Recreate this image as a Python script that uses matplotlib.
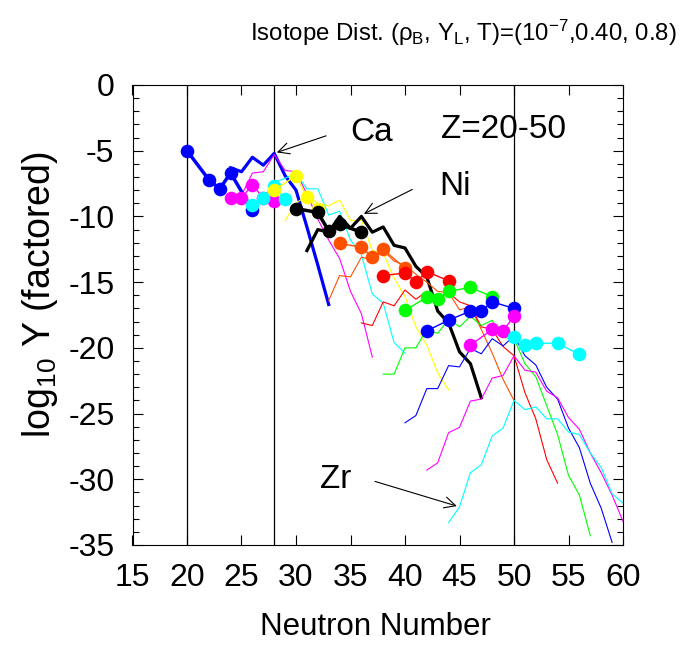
import matplotlib
matplotlib.use('Agg')
import matplotlib.pyplot as plt
from matplotlib.ticker import MultipleLocator

plt.rcParams['font.family'] = ['Liberation Sans', 'DejaVu Sans']
plt.rcParams['axes.unicode_minus'] = False
plt.rcParams['mathtext.fontset'] = 'custom'
plt.rcParams['mathtext.rm'] = 'Liberation Sans'
plt.rcParams['mathtext.it'] = 'Liberation Sans:italic'

# Model curves (lines) and data points (markers), log10 Y factored, per element
ca_model_n = [24, 25, 26, 27, 28, 29, 30, 31, 32, 33]
ca_model_y = [-6.3, -6.6, -5.5, -6.1, -5.2, -6.9, -8.0, -10.8, -13.7, -16.7]
ca_data_n = [20, 22, 23, 24, 26]
ca_data_y = [-5.0, -7.2, -7.9, -6.7, -9.5]

ti_model_n = [25, 26, 27, 28, 29, 30, 31, 32, 33, 34, 35, 36, 37]
ti_model_y = [-8.4, -6.7, -6.6, -5.3, -6.5, -6.6, -8.3, -10.2, -11.8, -13.2, -15.7, -17.4, -20.7]
ti_data_n = [24, 25, 26, 27, 28]
ti_data_y = [-8.6, -8.6, -7.6, -8.6, -8.8]

cr_model_n = [27, 28, 29, 30, 31, 32, 33, 34, 35, 36, 37, 38, 39, 40]
cr_model_y = [-8.6, -7.4, -7.1, -6.7, -7.9, -7.9, -9.9, -9.6, -11.8, -12.9, -15.9, -16.6, -19.6, -20.4]
cr_data_n = [26, 27, 28, 29]
cr_data_y = [-9.1, -8.6, -7.7, -8.7]

fe_model_n = list(range(29, 45))
fe_model_y = [-10.3, -9.0, -8.4, -9.0, -9.2, -8.75, -10.3, -10.3, -12.6, -12.8, -14.7, -16.1,
              -18.4, -19.8, -21.9, -23.2]
fe_data_n = [28, 30, 31, 32]
fe_data_y = [-8.0, -6.9, -8.55, -9.4]

ni_model_n = list(range(31, 48))
ni_model_y = [-12.6, -11.0, -11.2, -10.0, -10.9, -10.0, -11.2, -10.8, -12.2, -12.4, -13.8, -14.6,
              -17.2, -18.1, -20.3, -21.2, -23.8]
ni_data_n = [30, 32, 33, 34, 36]
ni_data_y = [-9.4, -9.7, -11.1, -10.6, -11.2]

zn_model_n = list(range(33, 51))
zn_model_y = [-16.4, -14.5, -14.6, -13.1, -13.3, -12.6, -13.4, -13.7, -14.4, -15.0, -15.7, -15.8,
              -17.1, -16.9, -18.6, -20.4, -22.4, -24.0]
zn_data_n = [34, 36, 37, 38, 40]
zn_data_y = [-12.05, -12.35, -13.1, -12.5, -13.95]

ge_model_n = list(range(36, 55))
ge_model_y = [-18.1, -18.3, -16.5, -16.8, -15.6, -16.3, -15.7, -16.2, -15.8, -16.5, -16.8, -18.4,
              -18.6, -19.9, -20.6, -23.4, -25.4, -28.5, -30.3]
ge_data_n = [38, 40, 41, 42, 44]
ge_data_y = [-14.5, -14.3, -15.0, -14.2, -14.9]

se_model_n = list(range(38, 58))
se_model_y = [-22.0, -22.0, -20.0, -20.0, -18.6, -18.9, -17.8, -18.4, -17.6, -18.3, -17.9, -19.2,
              -19.3, -21.2, -22.2, -24.4, -26.6, -29.7, -31.2, -34.3]
se_data_n = [40, 42, 43, 44, 46, 48]
se_data_y = [-17.15, -16.15, -16.3, -15.7, -15.4, -16.1]

kr_model_n = list(range(40, 60))
kr_model_y = [-25.7, -25.15, -23.1, -23.1, -21.35, -21.45, -20.05, -20.45, -19.3, -19.85, -19.1,
              -20.6, -21.3, -23.0, -23.9, -26.1, -27.6, -30.3, -32.2, -34.8]
kr_data_n = [42, 44, 46, 47, 48, 50]
kr_data_y = [-18.7, -17.9, -17.2, -17.2, -16.5, -17.0]

sr_model_n = list(range(42, 61))
sr_model_y = [-29.3, -28.75, -26.45, -26.05, -24.05, -23.9, -22.3, -22.1, -20.6, -21.7, -21.85,
              -23.3, -23.8, -25.3, -26.2, -28.0, -29.5, -31.2, -33.2]
sr_data_n = [46, 48, 49, 50]
sr_data_y = [-19.8, -18.6, -18.7, -17.6]

zr_model_n = list(range(44, 61))
zr_model_y = [-33.3, -32.1, -29.5, -28.9, -26.7, -26.1, -24.0, -24.7, -24.5, -25.4, -25.4, -26.4,
              -26.6, -28.0, -29.1, -31.1, -31.8]
zr_data_n = [50, 51, 52, 54, 56]
zr_data_y = [-19.15, -19.8, -19.65, -19.65, -20.5]

magic_n = [20, 28, 50]

# (model n, model y, data n, data y, colour, thick?)
series = [
    (ca_model_n, ca_model_y, ca_data_n, ca_data_y, '#0000ff', True),
    (ti_model_n, ti_model_y, ti_data_n, ti_data_y, '#ff00ff', False),
    (cr_model_n, cr_model_y, cr_data_n, cr_data_y, '#00ffff', False),
    (fe_model_n, fe_model_y, fe_data_n, fe_data_y, '#ffff00', False),
    (ni_model_n, ni_model_y, ni_data_n, ni_data_y, '#000000', True),
    (zn_model_n, zn_model_y, zn_data_n, zn_data_y, '#ff5000', False),
    (ge_model_n, ge_model_y, ge_data_n, ge_data_y, '#ff0000', False),
    (se_model_n, se_model_y, se_data_n, se_data_y, '#00ff00', False),
    (kr_model_n, kr_model_y, kr_data_n, kr_data_y, '#0000ff', False),
    (sr_model_n, sr_model_y, sr_data_n, sr_data_y, '#ff00ff', False),
    (zr_model_n, zr_model_y, zr_data_n, zr_data_y, '#00ffff', False),
]

fig = plt.figure(figsize=(6.88, 6.48), dpi=100)
ax = fig.add_axes([132.5 / 688, 1 - 545 / 648, (623 - 132.5) / 688, (545 - 85) / 648])

for n in magic_n:
    ax.axvline(n, color='black', lw=0.9, zorder=1)

for mn, my, dn, dy, col, thick in series:
    ax.plot(mn, my, color=col, lw=2.3 if thick else 0.8, zorder=2)
for mn, my, dn, dy, col, thick in series:
    ax.plot(dn, dy, color=col, lw=2.5 if thick else 1.0, marker='o', markersize=9.8,
            markeredgewidth=0, zorder=3)

ax.set_xlim(15, 60)
ax.set_ylim(-35, 0)
ax.xaxis.set_major_locator(MultipleLocator(5))
ax.yaxis.set_major_locator(MultipleLocator(5))
ax.yaxis.set_minor_locator(MultipleLocator(1))
ax.tick_params(which='both', direction='in', top=True, right=True, labelsize=23, pad=13)
ax.tick_params(which='major', length=7, width=0.8)
ax.tick_params(which='minor', length=4, width=0.8)

# annotations
arrow = dict(arrowstyle='->', color='black', lw=0.8, mutation_scale=20)
ax.annotate('', xy=(28, -5.2), xytext=(33.0, -3.8), arrowprops=arrow)
ax.text(36.9, -3.65, 'Ca', fontsize=24, ha='center', va='center')
ax.annotate('', xy=(36.0, -9.9), xytext=(40.9, -7.85), arrowprops=arrow)
ax.text(44.6, -7.75, 'Ni', fontsize=24, ha='center', va='center')
ax.text(49.0, -3.4, 'Z=20-50', fontsize=24, ha='center', va='center')
ax.annotate('', xy=(45.0, -32.1), xytext=(37.0, -30.1), arrowprops=arrow)
ax.text(33.6, -30.0, 'Zr', fontsize=24, ha='center', va='center')

fig.text(463 / 688, 1 - 33 / 648,
         r'Isotope Dist. (ρ$_\mathrm{B}$, Y$_\mathrm{L}$, T)=(10$^\mathrm{-7}$,0.40, 0.8)',
         fontsize=17.3, ha='center', va='center')
fig.text(375 / 688, 1 - 627 / 648, 'Neutron Number', fontsize=22.5, ha='center', va='center')
fig.text(40 / 688, 1 - 295 / 648, r'log$_\mathrm{10}$ Y (factored)', fontsize=27,
         ha='center', va='center', rotation=90)

fig.savefig('out.png', dpi=100)
